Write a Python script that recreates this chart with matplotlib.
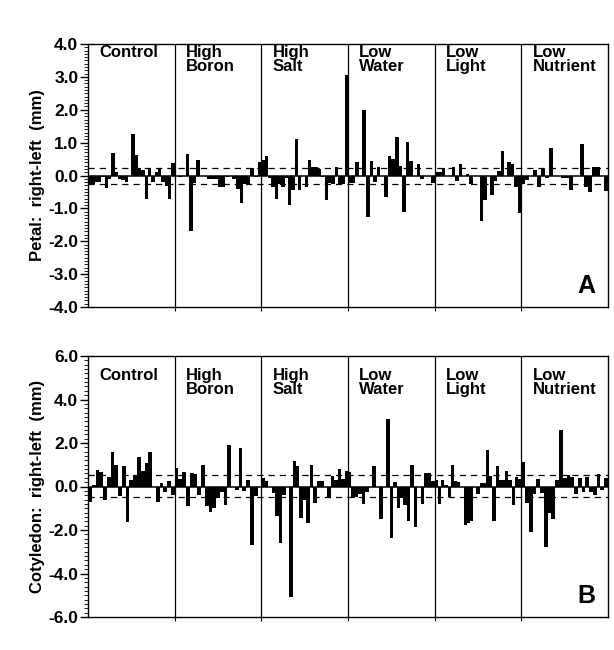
import matplotlib
matplotlib.use("Agg")
import matplotlib.pyplot as plt
from matplotlib.ticker import MultipleLocator, FormatStrFormatter

plt.rcParams['font.family'] = ['Liberation Sans', 'DejaVu Sans']
plt.rcParams['font.weight'] = 'bold'

groups = ["Control", "High\nBoron", "High\nSalt", "Low\nWater", "Low\nLight", "Low\nNutrient"]

# Panel A: petal right-left (mm)
control_A = [-0.25, -0.25, -0.2, -0.2, -0.05, -0.38, -0.1, 0.68, 0.1, -0.1, -0.15, -0.2, 0.0,
             1.25, 0.62, 0.22, 0.18, -0.7, 0.22, -0.2, 0.1, 0.2, -0.2, -0.32, -0.72, 0.38]
boron_A = [-0.03, -0.05, 0.0, 0.66, -1.7, -0.23, 0.47, 0.0, 0.0, -0.1, -0.1, -0.1, -0.36, -0.36,
           -0.05, 0.0, -0.1, -0.4, -0.84, -0.26, -0.26, 0.22, -0.05, 0.4]
salt_A = [0.48, 0.6, -0.09, -0.36, -0.7, -0.27, -0.36, -0.09, -0.89, -0.45, 1.12, -0.43, 0.0, -0.34,
          0.47, 0.25, 0.25, 0.2, -0.05, -0.75, -0.23, -0.27, 0.25, -0.27, -0.27, 3.05]
water_A = [-0.23, -0.23, 0.41, 0.0, 2.0, -1.27, 0.44, -0.2, 0.27, 0.0, -0.64, 0.6, 0.5, 1.16, 0.29,
           -1.1, 1.03, 0.44, 0.0, 0.36, -0.1, 0.0, 0.0, -0.23]
light_A = [0.11, 0.11, 0.23, 0.0, 0.0, 0.27, -0.18, 0.34, 0.0, 0.06, -0.27, 0.0, 0.0, -1.39, -0.75,
           -0.02, -0.59, -0.18, 0.15, 0.75, 0.0, 0.41, 0.36, -0.34, -1.15]
nutrient_A = [-0.27, -0.14, 0.0, 0.16, -0.34, 0.2, -0.09, 0.85, 0.0, 0.0, -0.09, -0.09, -0.45, 0.0,
              0.0, 0.95, -0.34, -0.5, 0.27, 0.25, 0.0, -0.47]

# Panel B: cotyledon right-left (mm)
control_B = [-0.69, 0.05, 0.77, 0.67, -0.64, 0.43, 1.57, 0.99, -0.43, 0.96, -1.64, 0.31, 0.53, 1.36,
             0.7, 1.1, 1.6, 0.0, -0.73, 0.17, -0.23, 0.24, -0.37]
boron_B = [0.86, 0.36, 0.67, -0.9, 0.6, 0.56, -0.37, 0.99, -0.9, -1.19, -0.97, -0.54, -0.23, -0.87,
           1.89, 0.0, -0.14, 1.77, -0.19, 0.29, -2.69, -0.43, 0.0]
salt_B = [0.39, 0.27, 0.0, -0.29, -1.36, -2.61, -0.4, 0.0, -5.09, 1.19, 0.93, -1.43, -0.61, -1.67,
          0.99, -0.76, 0.27, 0.24, 0.0, -0.51, 0.46, 0.29, 0.81, 0.36, 0.7]
water_B = [0.67, -0.54, -0.5, -0.33, -0.79, -0.26, 0.0, 0.96, 0.0, -1.5, 0.0, 3.1, -2.36, 0.21,
           -0.97, -0.54, -0.83, -1.57, 1.0, -1.87, 0.0, -0.79, 0.6, 0.64, 0.24]
light_B = [0.31, -0.79, 0.29, 0.07, -0.47, 1.0, 0.24, 0.21, 0.0, -1.76, -1.69, -1.59, 0.0, -0.33,
           0.14, 0.17, 1.67, 0.49, -1.57, 0.96, 0.29, 0.31, 0.7, 0.31, -0.86, 0.43, 0.35]
nutrient_B = [1.14, -0.76, -2.07, -0.33, 0.36, -0.29, -2.76, -1.23, -1.51, 0.29, 2.6, 0.39, 0.53,
              0.43, -0.33, 0.39, -0.26, 0.43, -0.26, -0.4, 0.56, -0.14, 0.39]

dash_A = [0.22, -0.25]
dash_B = [0.55, -0.5]

panels = [
    dict(series=[control_A, boron_A, salt_A, water_A, light_A, nutrient_A], dashes=dash_A,
         ylim=(-4, 4), major=1.0, minor=0.1, ylabel="Petal:  right-left  (mm)", tag="A",
         rect=[88/614, 1-307/650, 520/614, 263/650], label_y=0.995),
    dict(series=[control_B, boron_B, salt_B, water_B, light_B, nutrient_B], dashes=dash_B,
         ylim=(-6, 6), major=2.0, minor=0.2, ylabel="Cotyledon:  right-left  (mm)", tag="B",
         rect=[88/614, 1-617/650, 520/614, 261/650], label_y=0.955),
]

fig = plt.figure(figsize=(6.14, 6.5), dpi=100)

for p in panels:
    ax = fig.add_axes(p["rect"])
    for g, vals in enumerate(p["series"]):
        n = len(vals)
        w = 1.0 / n
        xs = [g + (i + 0.5) * w for i in range(n)]
        ax.bar(xs, vals, width=w, color="black", edgecolor="none", linewidth=0)
    ng = len(p["series"])
    for g in range(1, ng):
        ax.axvline(g, color="black", lw=0.9)
    ax.axhline(0, color="black", lw=1.1)
    for d in p["dashes"]:
        ax.axhline(d, color="black", lw=0.9, ls=(0, (5, 4)))
    ax.set_xlim(0, ng)
    ax.set_ylim(*p["ylim"])
    ax.yaxis.set_major_locator(MultipleLocator(p["major"]))
    ax.yaxis.set_minor_locator(MultipleLocator(p["minor"]))
    ax.yaxis.set_major_formatter(FormatStrFormatter("%.1f"))
    ax.tick_params(axis="y", which="major", length=6, width=1.0, pad=1, labelsize=12.5)
    ax.tick_params(axis="y", which="minor", length=3, width=0.6)
    ax.set_xticks(range(1, ng))
    ax.set_xticklabels([])
    ax.tick_params(axis="x", which="major", length=3, width=0.8, direction="out")
    for lbl in ax.get_yticklabels():
        lbl.set_fontweight("bold")
    for s in ax.spines.values():
        s.set_linewidth(1.0)
    ax.set_ylabel(p["ylabel"], fontsize=12, fontweight="bold", labelpad=2)
    for g, name in enumerate(groups):
        ax.text(g + 0.13, p["label_y"], name, transform=ax.get_xaxis_transform(), ha="left",
                va="top", fontsize=12, fontweight="bold", linespacing=0.9)
    ax.text(0.975, 0.035, p["tag"], transform=ax.transAxes, ha="right", va="bottom",
            fontsize=18, fontweight="bold")

fig.savefig("out.png", dpi=100)
